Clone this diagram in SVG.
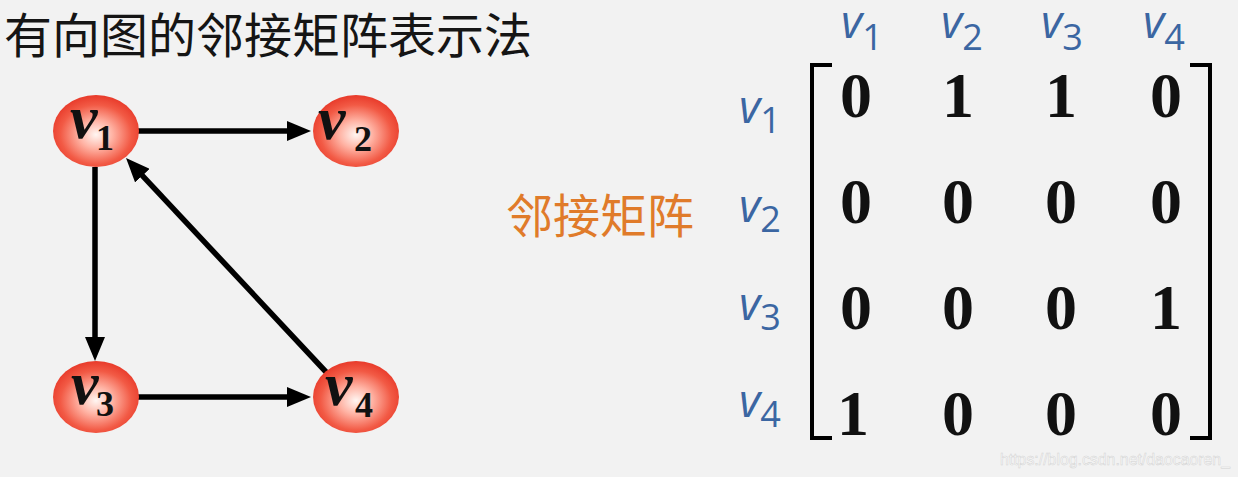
<svg xmlns="http://www.w3.org/2000/svg" width="1238" height="477" viewBox="0 0 1238 477">
<style>
.title{font-family:"Noto Sans CJK SC","Noto Sans",sans-serif;font-size:48px;fill:#151515}
.orange{font-family:"Noto Sans CJK SC","Noto Sans",sans-serif;font-size:47px;fill:#e07b2a}
.nv{font-family:"Liberation Serif",serif;font-weight:bold;font-style:italic;font-size:62px;fill:#111}
.ns{font-family:"Liberation Serif",serif;font-weight:bold;font-size:36px;fill:#111}
.lv{font-family:"Open Sans","Liberation Sans",sans-serif;font-style:italic;font-size:46px;fill:#3b66a2}
.ls{font-family:"Open Sans","Liberation Sans",sans-serif;font-size:36px;fill:#3b66a2}
.m{font-family:"Liberation Serif",serif;font-weight:bold;font-size:64px;fill:#111;text-anchor:middle}
.edge{stroke:#000;stroke-width:5.5;fill:none}
.br{stroke:#000;stroke-width:4;fill:none}
.node{fill:url(#rg)}
.wm{font-family:"Liberation Sans",sans-serif;font-size:16px;fill:#fbfbfb;stroke:#d2d2d2;stroke-width:0.5}
</style>
<defs>
<radialGradient id="rg" cx="50%" cy="55%" r="55%">
<stop offset="0%" stop-color="#fff6f2"/>
<stop offset="35%" stop-color="#ffb3a4"/>
<stop offset="75%" stop-color="#f25a45"/>
<stop offset="100%" stop-color="#e83a2a"/>
</radialGradient>
<marker id="ah" markerUnits="userSpaceOnUse" markerWidth="24" markerHeight="20" refX="12" refY="10" orient="auto">
<path d="M0,0 L24,10 L0,20 Z" fill="#000"/>
</marker>
</defs>
<rect width="1238" height="477" fill="#f2f2f2"/>
<text class="title" x="4" y="53">有向图的邻接矩阵表示法</text>

<g id="edges">
<line class="edge" x1="138" y1="131" x2="299" y2="131" marker-end="url(#ah)"/>
<line class="edge" x1="95" y1="167" x2="95" y2="349" marker-end="url(#ah)"/>
<line class="edge" x1="138" y1="397" x2="299" y2="397" marker-end="url(#ah)"/>
<line class="edge" x1="327" y1="373" x2="134.2" y2="166.8" marker-end="url(#ah)"/>
</g>

<g id="node-v1">
<ellipse class="node" cx="96" cy="131" rx="43" ry="36"/>
<text class="nv" x="70" y="138">v</text><text class="ns" x="96" y="150">1</text>
</g>
<g id="node-v2">
<ellipse class="node" cx="356" cy="131" rx="43" ry="36"/>
<text class="nv" x="318" y="139">v</text><text class="ns" x="354" y="151">2</text>
</g>
<g id="node-v3">
<ellipse class="node" cx="96" cy="397" rx="43" ry="36"/>
<text class="nv" x="71" y="404">v</text><text class="ns" x="96" y="416">3</text>
</g>
<g id="node-v4">
<ellipse class="node" cx="356" cy="397" rx="43" ry="36"/>
<text class="nv" x="325" y="405">v</text><text class="ns" x="355" y="417">4</text>
</g>

<text class="orange" x="506" y="233">邻接矩阵</text>

<g id="col-labels">
<text x="841" y="38"><tspan class="lv">v</tspan><tspan class="ls" dy="12">1</tspan></text>
<text x="941" y="38"><tspan class="lv">v</tspan><tspan class="ls" dy="12">2</tspan></text>
<text x="1041" y="38"><tspan class="lv">v</tspan><tspan class="ls" dy="12">3</tspan></text>
<text x="1143" y="38"><tspan class="lv">v</tspan><tspan class="ls" dy="12">4</tspan></text>
</g>
<g id="row-labels">
<text x="739" y="123"><tspan class="lv">v</tspan><tspan class="ls" dy="10">1</tspan></text>
<text x="739" y="222"><tspan class="lv">v</tspan><tspan class="ls" dy="10">2</tspan></text>
<text x="739" y="320"><tspan class="lv">v</tspan><tspan class="ls" dy="10">3</tspan></text>
<text x="739" y="417"><tspan class="lv">v</tspan><tspan class="ls" dy="10">4</tspan></text>
</g>

<g id="matrix">
<polyline class="br" points="832,65 812,65 812,438 832,438"/>
<polyline class="br" points="1190,65 1210,65 1210,438 1190,438"/>
<text class="m" x="856" y="117">0</text><text class="m" x="958" y="117">1</text><text class="m" x="1061" y="117">1</text><text class="m" x="1166" y="117">0</text>
<text class="m" x="856" y="223">0</text><text class="m" x="958" y="223">0</text><text class="m" x="1061" y="223">0</text><text class="m" x="1166" y="223">0</text>
<text class="m" x="856" y="329">0</text><text class="m" x="958" y="329">0</text><text class="m" x="1061" y="329">0</text><text class="m" x="1166" y="329">1</text>
<text class="m" x="853" y="435">1</text><text class="m" x="958" y="435">0</text><text class="m" x="1061" y="435">0</text><text class="m" x="1166" y="435">0</text>
</g>

<text class="wm" x="1000" y="465" textLength="230" lengthAdjust="spacingAndGlyphs">https://blog.csdn.net/daocaoren_</text>
</svg>
